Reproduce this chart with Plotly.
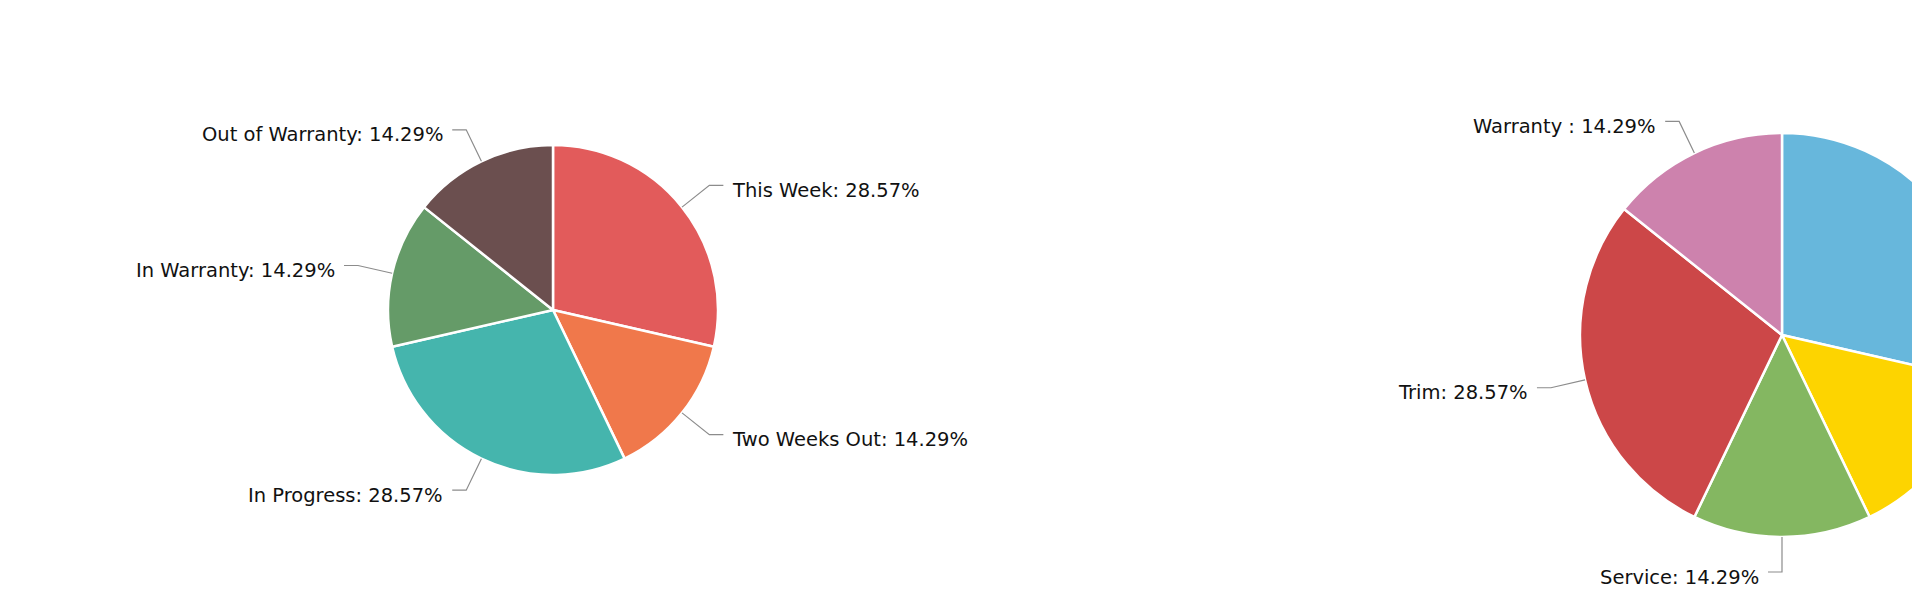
import math
import plotly.graph_objects as go

# ---------------- data ----------------
left_labels = ["This Week", "Two Weeks Out", "In Progress", "In Warranty", "Out of Warranty"]
left_values = [2, 1, 2, 1, 1]
left_colors = ["#E25B5B", "#F0784B", "#45B5AD", "#659B68", "#6B4F4F"]

right_labels = ["Paint", "Body", "Service", "Trim", "Warranty "]
right_values = [2, 1, 1, 2, 1]
right_colors = ["#67B7DC", "#FDD400", "#84B761", "#CC4748", "#CD82AD"]

# ---------------- layout geometry (pixels) ----------------
FIG_W, FIG_H = 2300, 600
VIEW_W = 1920
OFF_X, OFF_Y = 8, 8  # page body margin compensation
LEFT_C, LEFT_R = (553, 310), 165
RIGHT_C, RIGHT_R = (1782, 335), 202
EXT = 35      # radial leader length
HSEG = 14     # horizontal leader length
GAP = 7       # gap between leader and text
FONT = dict(family="DejaVu Sans, Verdana, sans-serif", size=19.5, color="#111111")


def px2paper(x, y):
    return (x - OFF_X) / FIG_W, 1 - (y - OFF_Y) / FIG_H


def domain_for(c, r):
    x0, y1 = px2paper(c[0] - r, c[1] - r)
    x1, y0 = px2paper(c[0] + r, c[1] + r)
    return dict(x=[x0, x1], y=[y0, y1])


fig = go.Figure()
shapes, annotations = [], []


def add_pie(labels, values, colors, c, r):
    fig.add_trace(go.Pie(
        labels=labels, values=values, sort=False, direction="clockwise", rotation=0,
        marker=dict(colors=colors, line=dict(color="white", width=2.5)),
        textinfo="none", hoverinfo="label+percent", domain=domain_for(c, r),
        showlegend=False,
    ))
    total = sum(values)
    cum = 0
    for lab, v in zip(labels, values):
        mid = (cum + v / 2) / total * 2 * math.pi
        cum += v
        s, co = math.sin(mid), math.cos(mid)
        x0, y0 = c[0] + r * s, c[1] - r * co
        x1, y1 = c[0] + (r + EXT) * s, c[1] - (r + EXT) * co
        side = 1 if s > 1e-6 else -1
        x2 = x1 + side * HSEG
        if x2 > VIEW_W:  # label lies outside the visible window, as in the reference
            continue
        pts = [px2paper(x0, y0), px2paper(x1, y1), px2paper(x2, y1)]
        path = "M {} {} L {} {} L {} {}".format(*[f"{p:.6f}" for pt in pts for p in pt])
        shapes.append(dict(type="path", xref="paper", yref="paper", path=path,
                           line=dict(color="#8c8c8c", width=1.2)))
        tx, ty = px2paper(x2 + side * GAP, y1 + 5)
        annotations.append(dict(
            x=tx, y=ty, xref="paper", yref="paper", showarrow=False,
            text=f"{lab}: {v / total * 100:.2f}%", font=FONT,
            xanchor="left" if side > 0 else "right", yanchor="middle",
        ))


add_pie(left_labels, left_values, left_colors, LEFT_C, LEFT_R)
add_pie(right_labels, right_values, right_colors, RIGHT_C, RIGHT_R)

fig.update_layout(
    width=FIG_W, height=FIG_H, margin=dict(l=0, r=0, t=0, b=0),
    paper_bgcolor="white", plot_bgcolor="white",
    shapes=shapes, annotations=annotations,
)

fig.write_html("out.html")
